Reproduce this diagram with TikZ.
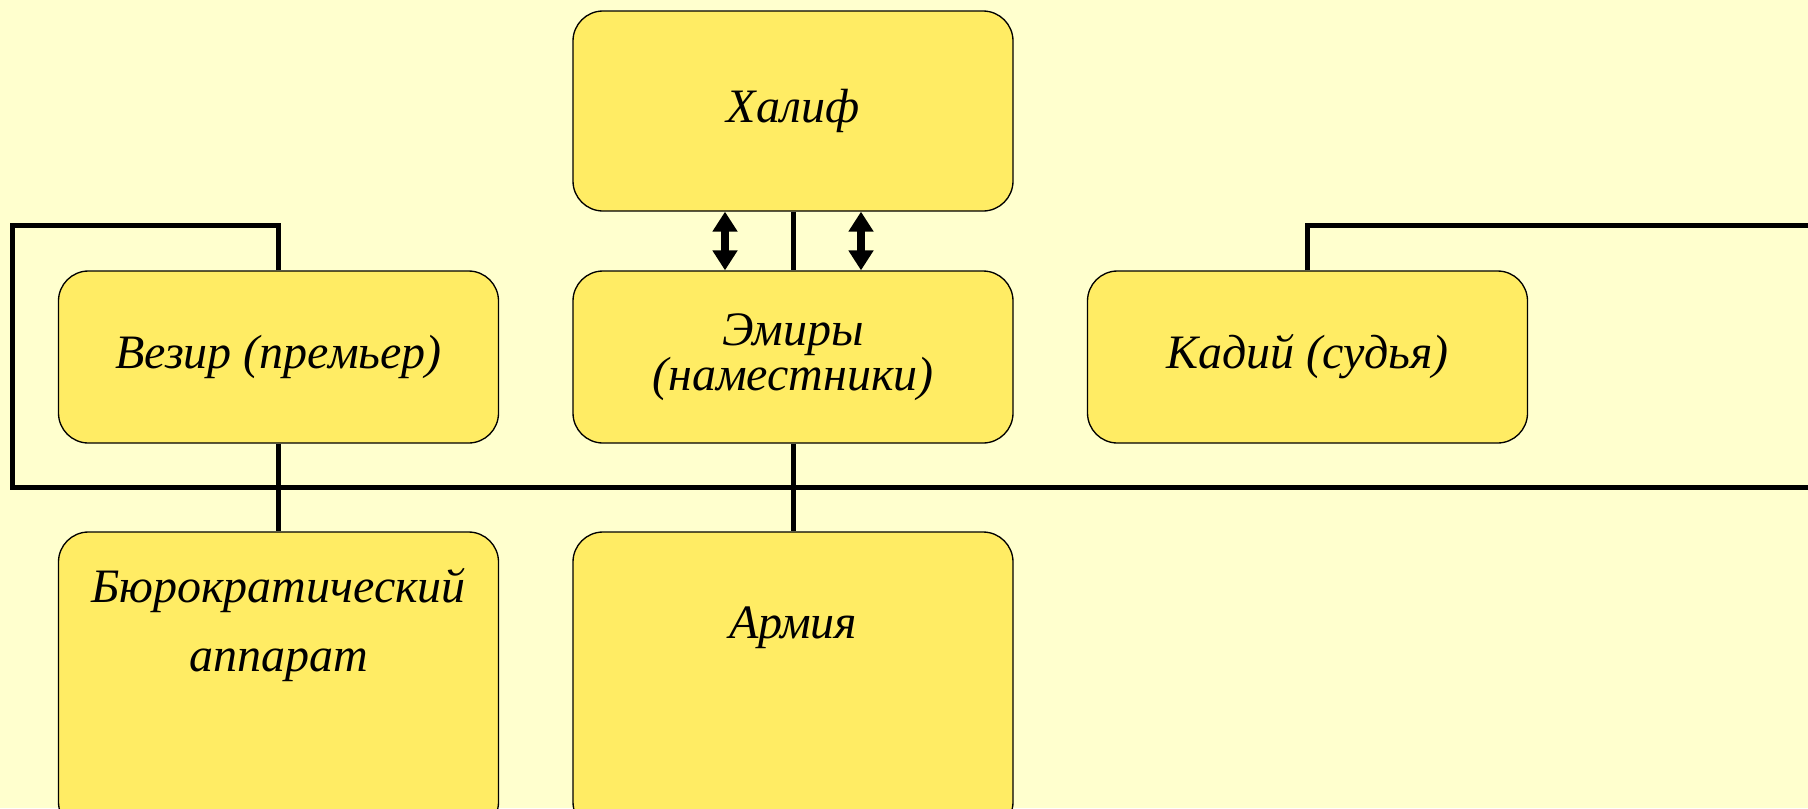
\documentclass[tikz,border=0pt]{standalone}
\usepackage{fontspec}
\setmainfont{Liberation Serif}
\usetikzlibrary{calc,arrows.meta}

\definecolor{bgyellow}{RGB}{255,255,206}
\definecolor{boxyellow}{RGB}{255,236,100}

\tikzset{every picture/.style={line width=0.75pt}}
\tikzset{
	box/.style={draw, fill=boxyellow, rounded corners=22.5pt, line width=1pt, inner sep=0pt,
		minimum width=330pt, minimum height=129pt, align=center,
		font=\fontsize{36}{34}\selectfont\itshape},
	lbl/.style={align=center, font=\fontsize{36}{52}\selectfont\itshape},
	bus/.style={line width=3.75pt},
	dbl/.style={line width=6pt, {Triangle[length=15pt,width=18pt]}-{Triangle[length=15pt,width=18pt]}}
}

\begin{document}
\begin{tikzpicture}[x=0.75pt,y=0.75pt,yscale=-1,xscale=1]
	\useasboundingbox (0,0) rectangle (1808,808);
	\clip (0,0) rectangle (1808,808);
	\fill[bgyellow] (0,0) rectangle (1808,808);

	% Boxes
	\node[box, minimum height=150pt] (caliph) at (793,111) {Халиф};
	\node[box] (vezir) at (278.5,357) {Везир (премьер)};
	\node[box] (emiry) at (793,357) {Эмиры\\(наместники)};
	\node[box] (kadiy) at (1307.5,357) {Кадий (судья)};
	\node[box, minimum height=225pt] (bureau) at (278.5,682) {};
	\node[box, minimum height=225pt] (army) at (793,682) {};
	\node[lbl] (bureaut) at (278.5,625) {Бюрократический\\аппарат};
	\node[lbl] (armyt) at (793,628) {Армия};

	% Bus corners
	\coordinate (topL) at (12,225);
	\coordinate (busL) at (12,487);
	\coordinate (busR) at (1815,487);
	\coordinate (topR) at (1815,225);

	% Connectors
	\draw[bus] (vezir.north) |- (topL) -- (busL) -- (busR);
	\draw[bus] (kadiy.north) |- (topR);
	\draw[bus] (vezir.south) -- (bureau.north);
	\draw[bus] (emiry.south) -- (army.north);
	\draw[bus] (caliph.south) -- (emiry.north);
	\draw[dbl] ($(caliph.south)+(-68,0)$) -- ($(emiry.north)+(-68,0)$);
	\draw[dbl] ($(caliph.south)+(68,0)$) -- ($(emiry.north)+(68,0)$);

\end{tikzpicture}
\end{document}
